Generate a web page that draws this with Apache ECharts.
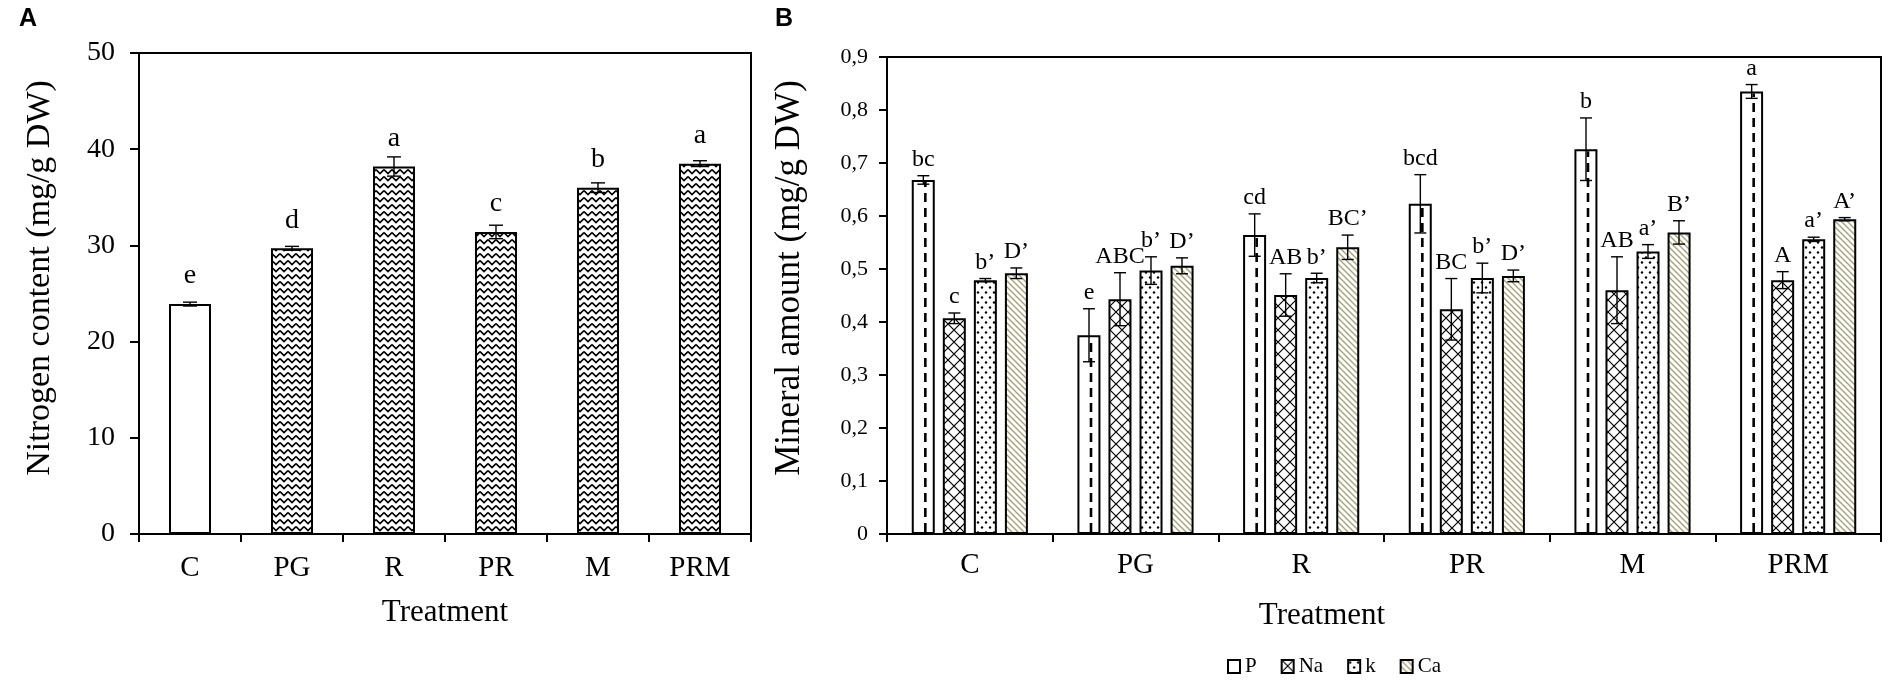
<!DOCTYPE html>
<html>
<head>
<meta charset="utf-8">
<title>Nitrogen and mineral content</title>
<script src="https://cdn.jsdelivr.net/npm/echarts@6.0.0/dist/echarts.min.js"></script>
<style>
  html, body { margin: 0; padding: 0; background: #fff; }
  #chart { width: 1900px; height: 691px; }
</style>
</head>
<body>
<div id="chart"></div>
<script>
// categories
const treatments = ['C', 'PG', 'R', 'PR', 'M', 'PRM'];

// panel A: nitrogen content
const nitrogen = [23.9, 29.7, 38.2, 31.4, 36.0, 38.5];
const nitrogenErr = [0.2, 0.2, 1.0, 0.7, 0.5, 0.3];
const nitrogenLetters = ['e', 'd', 'a', 'c', 'b', 'a'];

// panel B: minerals
const mineralNames = ['P', 'Na', 'k', 'Ca'];
const pVals = [0.668, 0.375, 0.564, 0.623, 0.726, 0.835];
const pErr = [0.008, 0.05, 0.04, 0.055, 0.059, 0.013];
const pLetters = ['bc', 'e', 'cd', 'bcd', 'b', 'a'];
const naVals = [0.407, 0.443, 0.451, 0.424, 0.460, 0.479];
const naErr = [0.01, 0.05, 0.04, 0.058, 0.063, 0.016];
const naLetters = ['c', 'ABC', 'AB', 'BC', 'AB', 'A'];
const kVals = [0.479, 0.497, 0.483, 0.483, 0.533, 0.556];
const kErr = [0.003, 0.026, 0.009, 0.028, 0.013, 0.004];
const kLetters = ['b’', 'b’', 'b’', 'b’', 'a’', 'a’'];
const caVals = [0.492, 0.506, 0.541, 0.487, 0.569, 0.594];
const caErr = [0.01, 0.015, 0.023, 0.011, 0.022, 0.003];
const caLetters = ['D’', 'D’', 'BC’', 'D’', 'B’', 'A’'];

const serif = 'Liberation Serif';

// small canvas tiles used as hatch fills
function makePattern(w, h, draw) {
    const c = document.createElement('canvas');
    c.width = w; c.height = h;
    const ctx = c.getContext('2d');
    ctx.fillStyle = '#fff';
    ctx.fillRect(0, 0, w, h);
    draw(ctx);
    return { image: c, repeat: 'repeat' };
}

const zigzag = makePattern(8, 7, ctx => {
    ctx.strokeStyle = '#000'; ctx.lineWidth = 1.6;
    ctx.beginPath(); ctx.moveTo(0, 1.5); ctx.lineTo(4, 5.5); ctx.lineTo(8, 1.5); ctx.stroke();
});
const crossHatch = makePattern(12, 12, ctx => {
    ctx.strokeStyle = '#000'; ctx.lineWidth = 1.2;
    ctx.beginPath();
    ctx.moveTo(0, 0); ctx.lineTo(12, 12);
    ctx.moveTo(12, 0); ctx.lineTo(0, 12);
    ctx.stroke();
});
const dots = makePattern(8, 10, ctx => {
    ctx.fillStyle = '#000';
    ctx.beginPath(); ctx.arc(2, 2.5, 1.2, 0, Math.PI * 2); ctx.fill();
    ctx.beginPath(); ctx.arc(6, 7.5, 1.2, 0, Math.PI * 2); ctx.fill();
});
const diagonal = makePattern(6, 6, ctx => {
    ctx.strokeStyle = '#a8a27a'; ctx.lineWidth = 1.4;
    ctx.beginPath();
    ctx.moveTo(-1, -1); ctx.lineTo(7, 7);
    ctx.moveTo(-1, 5); ctx.lineTo(1, 7);
    ctx.moveTo(5, -1); ctx.lineTo(7, 1);
    ctx.stroke();
});

// error bars + letters drawn from the data through the axes
function errorSeries(vals, errs, letters, opt) {
    return {
        type: 'custom',
        xAxisIndex: opt.axis, yAxisIndex: opt.axis,
        z: 10, silent: true,
        data: vals.map((v, i) => [i, v, errs[i]]),
        renderItem: function (params, api) {
            const i = api.value(0), v = api.value(1), e = api.value(2);
            const top = api.coord([i, v + e]);
            const bot = api.coord([i, v - e]);
            const base = api.coord([i, 0]);
            const barTop = api.coord([i, v]);
            const x = top[0] + opt.offset;
            const stroke = { stroke: '#000', lineWidth: 1.4 };
            const children = [];
            if (opt.dashed) {
                children.push({ type: 'line', shape: { x1: x + 2, y1: base[1] - 2, x2: x + 2, y2: barTop[1] + 2 },
                    style: { stroke: '#000', lineWidth: 2.6, lineDash: [9, 6] } });
            }
            children.push(
                { type: 'line', shape: { x1: x, y1: top[1], x2: x, y2: bot[1] }, style: stroke },
                { type: 'line', shape: { x1: x - opt.cap, y1: top[1], x2: x + opt.cap, y2: top[1] }, style: stroke },
                { type: 'line', shape: { x1: x - opt.cap, y1: bot[1], x2: x + opt.cap, y2: bot[1] }, style: stroke }
            );
            if (letters) {
                children.push({ type: 'text', x: x, y: top[1] - 4,
                    style: { text: letters[i], fill: '#000', font: opt.font + 'px "' + serif + '"',
                        align: 'center', verticalAlign: 'bottom' } });
            }
            return { type: 'group', children: children };
        }
    };
}

const chart = echarts.init(document.getElementById('chart'));

const axisLine = { show: true, lineStyle: { color: '#000', width: 2 } };
const axisTick = { show: true, length: 8, lineStyle: { color: '#000', width: 2 } };

// bar geometry for panel B
const bW = 23, bStep = 31;
const offsets = [-1.5, -0.5, 0.5, 1.5].map(k => k * bStep);

chart.setOption({
    backgroundColor: '#fff',
    animation: false,
    grid: [
        { left: 139, right: 1149, top: 53, bottom: 157, show: true, borderColor: '#000', borderWidth: 2 },
        { left: 887, right: 19, top: 57, bottom: 157, show: true, borderColor: '#000', borderWidth: 2 }
    ],
    xAxis: [
        { gridIndex: 0, type: 'category', data: treatments, axisLine: axisLine, axisTick: axisTick,
          splitLine: { show: false },
          axisLabel: { color: '#000', fontFamily: serif, fontSize: 29, margin: 20 } },
        { gridIndex: 1, type: 'category', data: treatments, axisLine: axisLine, axisTick: axisTick,
          splitLine: { show: false },
          axisLabel: { color: '#000', fontFamily: serif, fontSize: 29, margin: 17 } }
    ],
    yAxis: [
        { gridIndex: 0, type: 'value', min: 0, max: 50, interval: 10,
          axisLine: axisLine, axisTick: Object.assign({}, axisTick, { length: 9 }), splitLine: { show: false },
          axisLabel: { color: '#000', fontFamily: serif, fontSize: 28, margin: 24 } },
        { gridIndex: 1, type: 'value', min: 0, max: 0.9, interval: 0.1,
          axisLine: axisLine, axisTick: axisTick, splitLine: { show: false },
          axisLabel: { color: '#000', fontFamily: serif, fontSize: 22, margin: 19,
              formatter: v => v === 0 ? '0' : v.toFixed(1).replace('.', ',') } }
    ],
    legend: {
        data: mineralNames,
        left: 1222, top: 651,
        itemWidth: 12, itemHeight: 13, itemGap: 24,
        icon: 'rect',
        itemStyle: { borderColor: '#000', borderWidth: 2 },
        textStyle: { color: '#000', fontFamily: serif, fontSize: 21 }
    },
    graphic: [
        { type: 'text', left: 19, top: 7, style: { text: 'A', font: 'bold 25px "Liberation Sans"', fill: '#000' } },
        { type: 'text', left: 775, top: 7, style: { text: 'B', font: 'bold 25px "Liberation Sans"', fill: '#000' } },
        { type: 'text', x: 40, y: 278, rotation: Math.PI / 2,
          style: { text: 'Nitrogen content (mg/g DW)', font: '34px "' + serif + '"', fill: '#000',
                   align: 'center', verticalAlign: 'middle' } },
        { type: 'text', x: 790, y: 278, rotation: Math.PI / 2,
          style: { text: 'Mineral amount (mg/g DW)', font: '35px "' + serif + '"', fill: '#000',
                   align: 'center', verticalAlign: 'middle' } },
        { type: 'text', x: 445, y: 613,
          style: { text: 'Treatment', font: '31px "' + serif + '"', fill: '#000', align: 'center', verticalAlign: 'middle' } },
        { type: 'text', x: 1322, y: 616,
          style: { text: 'Treatment', font: '31px "' + serif + '"', fill: '#000', align: 'center', verticalAlign: 'middle' } }
    ],
    series: [
        {
            name: 'Nitrogen', type: 'bar', xAxisIndex: 0, yAxisIndex: 0,
            barWidth: 42,
            data: nitrogen.map((v, i) => ({ value: v, itemStyle: { color: i === 0 ? '#fff' : zigzag } })),
            itemStyle: { borderColor: '#000', borderWidth: 2 },
            label: { show: true, position: 'top', distance: 14, color: '#000', fontFamily: serif, fontSize: 28,
                     formatter: p => nitrogenLetters[p.dataIndex] }
        },
        errorSeries(nitrogen, nitrogenErr, null, { axis: 0, offset: 0, cap: 7, font: 26 }),
        { name: 'P', type: 'bar', xAxisIndex: 1, yAxisIndex: 1, barWidth: bW, barGap: '35%',
          data: pVals, itemStyle: { color: '#fff', borderColor: '#000', borderWidth: 2 } },
        { name: 'Na', type: 'bar', xAxisIndex: 1, yAxisIndex: 1, barWidth: bW, barGap: '35%',
          data: naVals, itemStyle: { color: crossHatch, borderColor: '#000', borderWidth: 2 } },
        { name: 'k', type: 'bar', xAxisIndex: 1, yAxisIndex: 1, barWidth: bW, barGap: '35%',
          data: kVals, itemStyle: { color: dots, borderColor: '#000', borderWidth: 2 } },
        { name: 'Ca', type: 'bar', xAxisIndex: 1, yAxisIndex: 1, barWidth: bW, barGap: '35%',
          data: caVals, itemStyle: { color: diagonal, borderColor: '#000', borderWidth: 2 } },
        errorSeries(pVals, pErr, pLetters, { axis: 1, offset: offsets[0], cap: 6, font: 24, dashed: true }),
        errorSeries(naVals, naErr, naLetters, { axis: 1, offset: offsets[1], cap: 6, font: 24 }),
        errorSeries(kVals, kErr, kLetters, { axis: 1, offset: offsets[2], cap: 6, font: 24 }),
        errorSeries(caVals, caErr, caLetters, { axis: 1, offset: offsets[3], cap: 6, font: 24 })
    ]
});
</script>
</body>
</html>
